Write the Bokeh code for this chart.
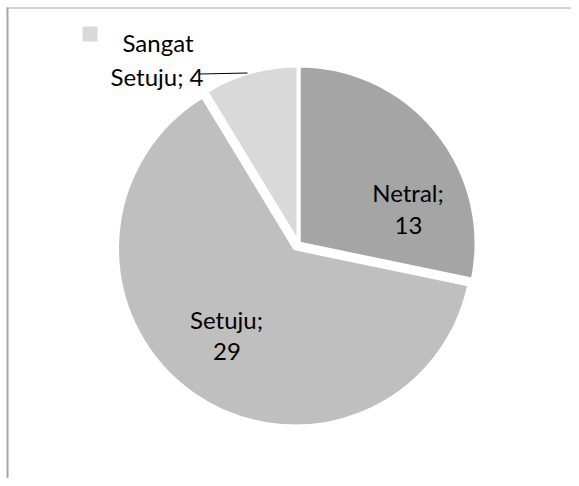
import math
from bokeh.plotting import figure
from bokeh.models import Range1d, ColumnDataSource
from bokeh.core.properties import value
from bokeh.embed import file_html
from bokeh.resources import INLINE

# ---- data ----
categories = ["Netral", "Setuju", "Sangat Setuju"]
counts = [13, 29, 4]
colors = ["#a5a5a5", "#bfbfbf", "#d9d9d9"]

# ---- layout / style ----
W, H = 571, 478
FONT = "Lato"
FS = "24px"
OFF = 0  # page -> figure pixel offset

def fx(px):
    return px - OFF

def fy(py):
    return H - (py - OFF)

center_page = (298, 243)
radius = 178
explode = [0, 6, 0]
# label baseline positions (page pixels): line1, line2
label_pos = [((407.5, 192), (408, 225)),
             ((226, 319), (226.5, 351)),
             ((157.5, 42), (156.5, 76))]

p = figure(width=W, height=H, output_backend="svg", toolbar_location=None,
           x_range=Range1d(0, W), y_range=Range1d(0, H),
           x_axis_location=None, y_axis_location=None, min_border=0)
p.outline_line_color = None
p.grid.visible = False
p.background_fill_color = "white"
p.border_fill_color = "white"

total = sum(counts)
cum = 0
xs, ys, starts, ends = [], [], [], []
for c, e in zip(counts, explode):
    a0 = math.pi / 2 - 2 * math.pi * cum / total
    cum += c
    a1 = math.pi / 2 - 2 * math.pi * cum / total
    mid = (a0 + a1) / 2
    cx = fx(center_page[0]) + e * math.cos(mid)
    cy = fy(center_page[1]) + e * math.sin(mid)
    xs.append(cx); ys.append(cy); starts.append(a0); ends.append(a1)

src = ColumnDataSource(dict(x=xs, y=ys, start=starts, end=ends, color=colors))
p.wedge(x="x", y="y", radius=radius, radius_units="screen",
        start_angle="start", end_angle="end", direction="clock",
        fill_color="color", line_color="white", line_width=4, source=src)

# labels
l1, l2, lx1, ly1, lx2, ly2 = [], [], [], [], [], []
for name, c, (pos1, pos2) in zip(categories, counts, label_pos):
    words = name.split(" ")
    if len(words) > 1:
        a = words[0]
        b = " ".join(words[1:]) + "; " + str(c)
    else:
        a = name + ";"
        b = str(c)
    l1.append(a); l2.append(b)
    lx1.append(fx(pos1[0])); ly1.append(fy(pos1[1]))
    lx2.append(fx(pos2[0])); ly2.append(fy(pos2[1]))

p.text(x=lx1, y=ly1, text=l1, text_font=value(FONT), text_font_size=FS,
       text_align="center", text_baseline="alphabetic", text_color="#000000")
p.text(x=lx2, y=ly2, text=l2, text_font=value(FONT), text_font_size=FS,
       text_align="center", text_baseline="alphabetic", text_color="#000000")

# leader line for small slice
p.line(x=[fx(199), fx(247)], y=[fy(73.5), fy(72.5)], line_color="#000000", line_width=1)

# legend-like marker
p.scatter(x=[fx(89.5)], y=[fy(33.5)], marker="square", size=15,
          fill_color=colors[2], line_color=None)

# chart border (left & top)
p.line(x=[fx(7), fx(7)], y=[0, fy(7)], line_color="#a6a6a6", line_width=2)
p.line(x=[fx(6), W], y=[fy(7.5), fy(7.5)], line_color="#a6a6a6", line_width=1)

open("out.html", "w").write(file_html(p, INLINE))
